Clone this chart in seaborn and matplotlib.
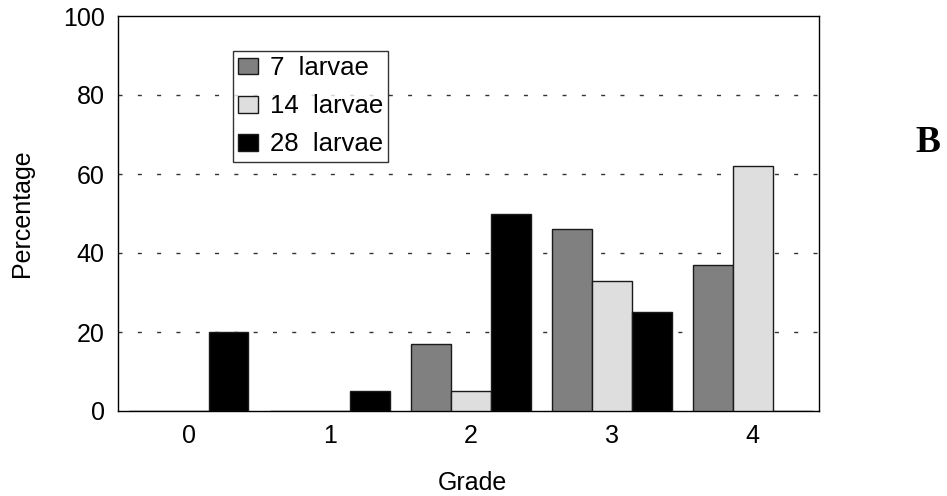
import matplotlib
matplotlib.use("Agg")
import matplotlib.pyplot as plt
import seaborn as sns
import pandas as pd

grades = ["0", "1", "2", "3", "4"]
larvae_7 = [0, 0, 17, 46, 37]
larvae_14 = [0, 0, 5, 33, 62]
larvae_28 = [20, 5, 50, 25, 0]
series_names = ["7  larvae", "14  larvae", "28  larvae"]
colors = ["#808080", "#dedede", "#000000"]

rows = []
for name, vals in zip(series_names, [larvae_7, larvae_14, larvae_28]):
    for g, v in zip(grades, vals):
        rows.append({"Grade": g, "Percentage": v, "Group": name})
df = pd.DataFrame(rows)

sns.set_style("white")
plt.rcParams["font.family"] = ["Liberation Sans", "DejaVu Sans"]
plt.rcParams["text.color"] = "black"
plt.rcParams["axes.labelcolor"] = "black"
plt.rcParams["xtick.color"] = "black"
plt.rcParams["ytick.color"] = "black"

fig = plt.figure(figsize=(9.47, 4.96), dpi=100)
ax = fig.add_axes([118/947, 1 - 411/496, 701/947, 395/496])

sns.barplot(data=df, x="Grade", y="Percentage", hue="Group", order=grades,
            hue_order=series_names, palette=colors, width=0.85,
            edgecolor="#1a1a1a", linewidth=1.0, saturation=1, ax=ax, zorder=3)

ax.set_ylim(0, 100)
ax.set_xlim(-0.5, 4.47)
ax.set_yticks([0, 20, 40, 60, 80, 100])
for y in [20, 40, 60, 80]:
    ax.axhline(y, color="#333333", lw=1.0, linestyle=(0, (2.9, 11.0)), zorder=1)

for s in ax.spines.values():
    s.set_visible(True)
    s.set_color("black")
    s.set_linewidth(1.0)

ax.tick_params(axis="both", length=0, labelsize=18, labelcolor="black",
               left=True, bottom=True, pad=9.5)
ax.set_xlabel("Grade", fontsize=18, color="black")
ax.set_ylabel("Percentage", fontsize=18, color="black")
ax.xaxis.set_label_coords(0.506, -0.153)
ax.yaxis.set_label_coords(-0.12, 0.5)

leg = ax.legend(loc="upper left", bbox_to_anchor=(115/701, 360/395), fontsize=18.5,
                frameon=True, fancybox=False, edgecolor="black",
                handlelength=0.78, handleheight=0.62, handletextpad=0.45,
                borderpad=0.2, labelspacing=0.55, borderaxespad=0)
leg.get_frame().set_linewidth(1.0)
for t in leg.get_texts():
    t.set_color("black")

fig.text(928/947, 1 - 143/496, "B", fontsize=27, fontweight="bold", color="black",
         family=["Liberation Serif", "DejaVu Serif"], ha="center", va="center")

fig.savefig("out.png", dpi=100)
